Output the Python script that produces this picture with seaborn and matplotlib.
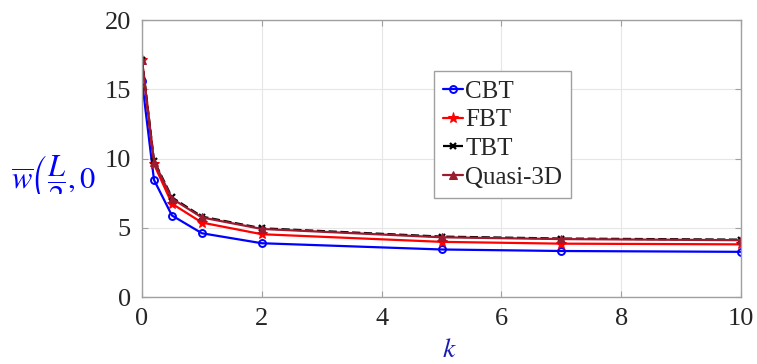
import numpy as np
import pandas as pd
import matplotlib
matplotlib.use("Agg")
import matplotlib.pyplot as plt
import seaborn as sns

# Data
k = [0, 0.2, 0.5, 1, 2, 5, 7, 10]
cbt = [15.6, 8.47, 5.9, 4.62, 3.9, 3.45, 3.34, 3.28]
fbt = [17.1, 9.6, 6.75, 5.39, 4.55, 4.0, 3.87, 3.82]
tbt = [17.15, 9.85, 7.2, 5.82, 4.98, 4.38, 4.24, 4.16]
quasi = [17.1, 9.78, 7.12, 5.76, 4.93, 4.33, 4.2, 4.12]

sns.set_style("white")
plt.rcParams["font.family"] = ["Liberation Serif", "DejaVu Serif"]
plt.rcParams["mathtext.fontset"] = "stix"

fig = plt.figure(figsize=(7.57, 3.64), dpi=100)
ax = fig.add_axes([0.1876, 0.1832, 0.7914, 0.7618])

styles = [
    ("CBT", cbt, dict(color="blue", marker="o", markersize=5, fillstyle="none",
                      markeredgecolor="blue", markeredgewidth=1.4)),
    ("FBT", fbt, dict(color="red", marker="*", markersize=8, markeredgecolor="red")),
    ("TBT", tbt, dict(color="black", marker="x", markersize=5, linestyle="--",
                      markeredgecolor="black", markeredgewidth=1.6)),
    ("Quasi-3D", quasi, dict(color="#9b1b30", marker="^", markersize=6,
                             markeredgecolor="#9b1b30")),
]
for name, vals, kw in styles:
    df = pd.DataFrame({"k": k, "w": vals})
    sns.lineplot(data=df, x="k", y="w", ax=ax, label=name, linewidth=1.6, **kw)

ax.set_xlim(0, 10)
ax.set_ylim(0, 20)
ax.set_xticks([0, 2, 4, 6, 8, 10])
ax.set_yticks([0, 5, 10, 15, 20])
ax.grid(True, color="#e6e6e6", linewidth=0.8)
for s in ax.spines.values():
    s.set_color("#a0a0a0")
    s.set_linewidth(1.0)
ax.tick_params(direction="in", length=4, color="#a0a0a0", labelsize=19,
               labelcolor="#262626", top=True, right=True, bottom=True, left=True, pad=8)
ax.set_xlabel("")
ax.set_ylabel("")

# axis labels
fig.text(0.594, 0.004, "$k$", color="#1a1ab4", fontsize=20, ha="center", va="bottom")

# y label, cut off below like in the original
lab_ax = fig.add_axes([0.0, 1 - 194 / 364, 0.185, 194 / 364])
lab_ax.set_axis_off()
lab_ax.text(0.08, (364 - 180 - 170) / 194, r"$\overline{w}\left(\dfrac{L}{2},0\right.$",
            color="blue", fontsize=22, ha="left", va="center",
            transform=lab_ax.transAxes, clip_on=True)

leg = ax.legend(loc="upper left", bbox_to_anchor=(0.487, 0.815), fontsize=18,
                handlelength=0.8, handletextpad=0.1, borderpad=0.35, labelspacing=0.25,
                borderaxespad=0, fancybox=False, framealpha=1, edgecolor="#a0a0a0")
leg.get_frame().set_linewidth(1.0)

fig.savefig("out.png", dpi=100)
